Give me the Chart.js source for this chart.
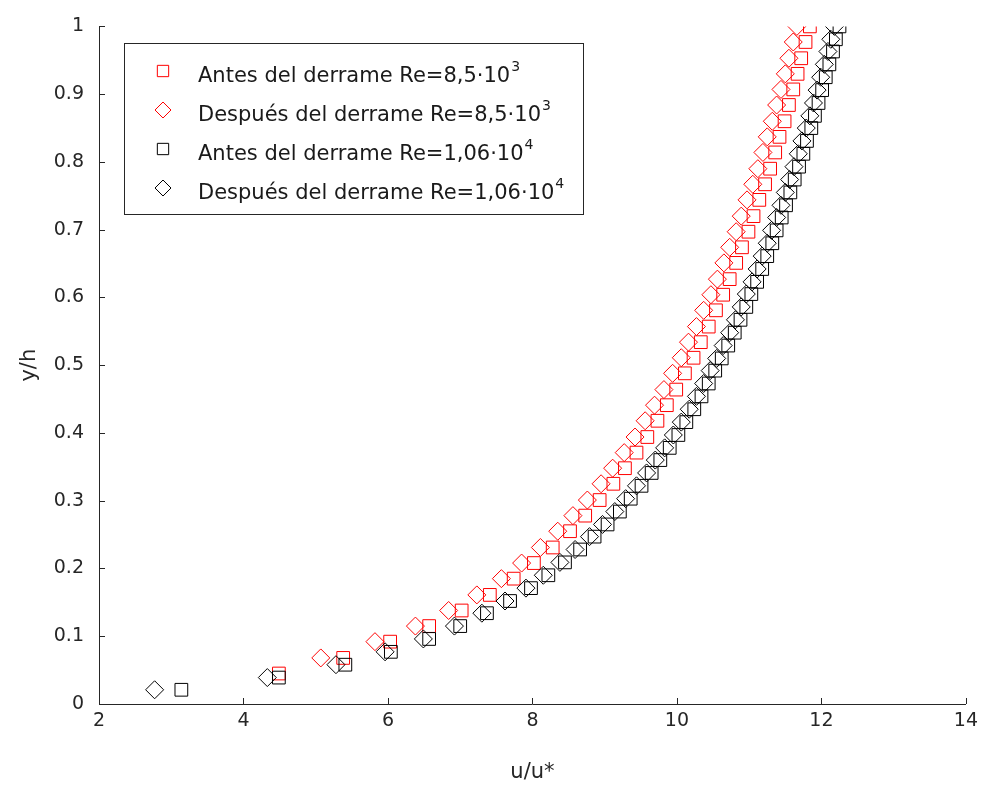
<!DOCTYPE html>
<html>
<head>
<meta charset="utf-8">
<script src="https://cdn.jsdelivr.net/npm/chart.js@4.4.0/dist/chart.umd.min.js"></script>
<style>
  html, body { margin: 0; padding: 0; background: #fff; }
  #wrap { width: 984px; height: 791px; }
</style>
</head>
<body>
<div id="wrap"><canvas id="perfil"></canvas></div>
<script>
// y/h levels for each Reynolds number
const yRe85 = [0.045, 0.068, 0.092, 0.115, 0.138, 0.161, 0.185, 0.208, 0.231, 0.255,
  0.278, 0.301, 0.325, 0.348, 0.371, 0.394, 0.418, 0.441, 0.464, 0.488,
  0.511, 0.534, 0.557, 0.581, 0.604, 0.627, 0.651, 0.674, 0.697, 0.720,
  0.744, 0.767, 0.790, 0.814, 0.837, 0.860, 0.884, 0.907, 0.930, 0.953,
  0.977, 1.000];
const yRe106 = [0.021, 0.039, 0.058, 0.077, 0.096, 0.115, 0.134, 0.152, 0.171, 0.190,
  0.209, 0.228, 0.247, 0.265, 0.284, 0.303, 0.322, 0.341, 0.360, 0.378,
  0.397, 0.416, 0.435, 0.454, 0.473, 0.492, 0.510, 0.529, 0.548, 0.567,
  0.586, 0.605, 0.623, 0.642, 0.661, 0.680, 0.699, 0.718, 0.736, 0.755,
  0.774, 0.793, 0.812, 0.831, 0.850, 0.868, 0.887, 0.906, 0.925, 0.944,
  0.963, 0.981, 1.000];

// u/u* profiles
const antes85 = [4.49, 5.38, 6.03, 6.57, 7.02, 7.41, 7.74, 8.02, 8.28, 8.52,
  8.73, 8.93, 9.12, 9.28, 9.44, 9.59, 9.73, 9.86, 9.99, 10.11,
  10.23, 10.33, 10.44, 10.54, 10.64, 10.73, 10.82, 10.90, 10.99, 11.06,
  11.14, 11.22, 11.29, 11.36, 11.42, 11.49, 11.55, 11.61, 11.67, 11.72,
  11.78, 11.84];
// starts at the second level of yRe85
const despues85 = [5.07, 5.82, 6.38, 6.84, 7.23, 7.57, 7.85, 8.11, 8.35, 8.56,
  8.76, 8.95, 9.11, 9.27, 9.42, 9.56, 9.69, 9.82, 9.94, 10.06,
  10.16, 10.27, 10.37, 10.47, 10.56, 10.65, 10.73, 10.82, 10.89, 10.97,
  11.05, 11.12, 11.19, 11.25, 11.32, 11.38, 11.44, 11.50, 11.55, 11.61,
  11.66];
const antes106 = [3.14, 4.49, 5.41, 6.04, 6.57, 7.00, 7.37, 7.69, 7.98, 8.22,
  8.45, 8.66, 8.86, 9.04, 9.21, 9.36, 9.51, 9.65, 9.77, 9.90,
  10.02, 10.13, 10.24, 10.34, 10.44, 10.53, 10.62, 10.71, 10.80, 10.88,
  10.96, 11.03, 11.11, 11.18, 11.25, 11.32, 11.38, 11.45, 11.51, 11.57,
  11.63, 11.69, 11.75, 11.80, 11.86, 11.91, 11.96, 12.01, 12.06, 12.11,
  12.16, 12.20, 12.25];
const despues106 = [2.77, 4.33, 5.28, 5.96, 6.49, 6.92, 7.30, 7.62, 7.91, 8.15,
  8.38, 8.59, 8.79, 8.97, 9.14, 9.29, 9.44, 9.58, 9.70, 9.83,
  9.95, 10.06, 10.17, 10.27, 10.37, 10.46, 10.55, 10.64, 10.73, 10.81,
  10.89, 10.96, 11.04, 11.11, 11.18, 11.25, 11.31, 11.38, 11.44, 11.50,
  11.56, 11.62, 11.68, 11.73, 11.79, 11.84, 11.89, 11.94, 11.99, 12.04,
  12.09, 12.13, 12.18];

const seriesNames = ['Antes del derrame Re=8,5·10', 'Después del derrame Re=8,5·10',
  'Antes del derrame Re=1,06·10', 'Después del derrame Re=1,06·10'];
const seriesExp = ['3', '3', '4', '4'];

const FONT = '"DejaVu Sans", Verdana, sans-serif';
const TXT = '#262626';

function pairs(xs, ys) {
  return xs.map((x, i) => ({ x: x, y: ys[i] }));
}

function serie(i, data, color, style, order) {
  return {
    label: seriesNames[i],
    data: data,
    showLine: false,
    pointStyle: style,
    pointRadius: 9,
    pointBorderWidth: 1,
    pointBorderColor: color,
    borderColor: color,
    pointBackgroundColor: 'rgba(0,0,0,0)',
    backgroundColor: 'rgba(0,0,0,0)',
    order: order
  };
}

const datasets = [
  serie(0, pairs(antes85, yRe85), '#ff0000', 'rect', 4),
  serie(1, pairs(despues85, yRe85.slice(1)), '#ff0000', 'rectRot', 3),
  serie(2, pairs(antes106, yRe106), '#000000', 'rect', 2),
  serie(3, pairs(despues106, yRe106), '#000000', 'rectRot', 1)
];

// inward tick marks, matlab style
const inwardTicks = {
  id: 'inwardTicks',
  afterDatasetsDraw(chart) {
    const ctx = chart.ctx;
    const a = chart.chartArea;
    const xs = chart.scales.x, ys = chart.scales.y;
    ctx.save();
    ctx.strokeStyle = TXT;
    ctx.lineWidth = 1;
    ctx.beginPath();
    xs.ticks.forEach(t => {
      const px = Math.round(xs.getPixelForValue(t.value)) + 0.5;
      ctx.moveTo(px, a.bottom);
      ctx.lineTo(px, a.bottom - 6);
    });
    ys.ticks.forEach(t => {
      const py = Math.round(ys.getPixelForValue(t.value)) + 0.5;
      ctx.moveTo(a.left, py);
      ctx.lineTo(a.left + 6, py);
    });
    ctx.stroke();
    ctx.restore();
  }
};

// boxed legend inside the axes
const boxLegend = {
  id: 'boxLegend',
  afterDraw(chart) {
    const ctx = chart.ctx;
    const bx = 124, by = 43, bw = 459, bh = 171;
    ctx.save();
    ctx.fillStyle = '#ffffff';
    ctx.fillRect(bx, by, bw, bh);
    ctx.strokeStyle = TXT;
    ctx.lineWidth = 1;
    ctx.strokeRect(bx + 0.5, by + 0.5, bw, bh);
    chart.data.datasets.forEach((ds, i) => {
      const cy = 73 + i * 39;
      ctx.fillStyle = 'rgba(0,0,0,0)';
      ctx.strokeStyle = ds.pointBorderColor;
      Chart.helpers.drawPoint(ctx, { pointStyle: ds.pointStyle, radius: 8, rotation: 0, borderWidth: 1 }, 163, cy - 2);
      ctx.fillStyle = '#1a1a1a';
      ctx.textBaseline = 'middle';
      ctx.textAlign = 'left';
      ctx.font = '21px ' + FONT;
      ctx.fillText(seriesNames[i], 198, cy + 4);
      const w = ctx.measureText(seriesNames[i]).width;
      ctx.font = '14px ' + FONT;
      ctx.fillText(seriesExp[i], 198 + w + 1, cy - 6);
    });
    ctx.restore();
  }
};

new Chart(document.getElementById('perfil'), {
  type: 'scatter',
  data: { datasets: datasets },
  plugins: [inwardTicks, boxLegend],
  options: {
    responsive: true,
    maintainAspectRatio: false,
    animation: false,
    events: [],
    layout: { padding: { top: 19, right: 18, left: 0, bottom: 0 } },
    plugins: { legend: { display: false }, tooltip: { enabled: false } },
    scales: {
      x: {
        type: 'linear',
        min: 2,
        max: 14,
        ticks: { stepSize: 2, color: TXT, padding: 6, font: { family: FONT, size: 19 } },
        grid: { display: false, drawTicks: false },
        border: { display: true, color: TXT, width: 1 },
        title: { display: true, text: 'u/u*', color: TXT, font: { family: FONT, size: 21 }, padding: { top: 4, bottom: 6 } },
        afterFit(s) { s.height = 87; }
      },
      y: {
        type: 'linear',
        min: 0,
        max: 1,
        ticks: {
          stepSize: 0.1, color: TXT, padding: 15, font: { family: FONT, size: 19 },
          callback: v => String(Math.round(v * 10) / 10)
        },
        grid: { display: false, drawTicks: false },
        border: { display: true, color: TXT, width: 1 },
        title: { display: true, text: 'y/h', color: TXT, font: { family: FONT, size: 21 }, padding: { top: 17, bottom: 4 } },
        afterFit(s) { s.width = 99; }
      }
    }
  }
});
</script>
</body>
</html>
